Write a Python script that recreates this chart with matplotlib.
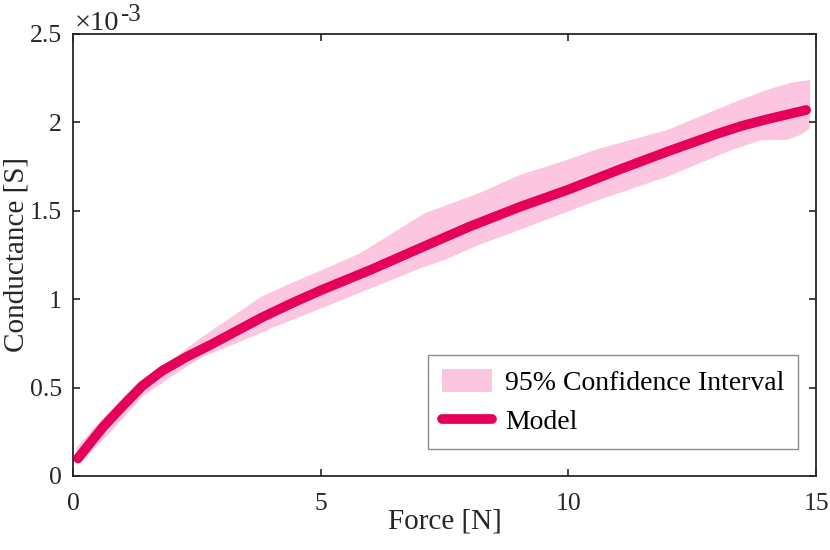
import numpy as np
import matplotlib
matplotlib.use("Agg")
from matplotlib import pyplot as plt

# model curve, conductance in units of 1e-3 S
model_force = [0.1, 0.6, 1.0, 1.4, 1.8, 2.3, 2.8, 3.5, 3.8, 4.4, 5.0, 6.0, 7.0,
               8.0, 9.0, 10.0, 11.0, 12.0, 13.0, 13.5, 14.0, 14.8]
model_cond = [0.10, 0.275, 0.395, 0.51, 0.595, 0.675, 0.745, 0.85, 0.895, 0.975, 1.05, 1.165, 1.288,
              1.41, 1.52, 1.62, 1.73, 1.835, 1.935, 1.98, 2.017, 2.07]

# 95% confidence band (upper and lower edges)
upper_force = [0.07, 0.6, 1.3, 2.0, 2.6, 3.1, 3.8, 4.4, 4.8, 5.8, 6.5, 7.1, 8.2,
               9.0, 10.0, 10.6, 12.0, 13.3, 14.0, 14.5, 14.88]
upper_cond = [0.16, 0.325, 0.525, 0.66, 0.785, 0.88, 1.014, 1.09, 1.137, 1.26, 1.382, 1.486, 1.60,
              1.70, 1.79, 1.85, 1.957, 2.108, 2.183, 2.225, 2.24]
lower_force = [0.07, 0.2, 0.8, 1.4, 2.0, 2.6, 3.3, 4.0, 5.1, 6.1, 7.1, 7.5, 8.2,
               9.0, 10.6, 12.0, 13.3, 13.9, 14.4, 14.7, 14.88]
lower_cond = [0.06, 0.09, 0.26, 0.449, 0.565, 0.672, 0.75, 0.835, 0.958, 1.071, 1.184, 1.222, 1.307,
              1.39, 1.56, 1.693, 1.844, 1.90, 1.90, 1.93, 1.967]

x_ticks = [0, 5, 10, 15]
y_ticks = [0, 0.5, 1, 1.5, 2, 2.5]

plt.rcParams['font.family'] = ['Liberation Serif', 'DejaVu Serif']
plt.rcParams['font.size'] = 18

dark = '#262626'
fig = plt.figure(figsize=(8.3, 5.5), dpi=100)
ax = fig.add_axes([73/830, 74/550, 743/830, 442/550])

band_x = np.concatenate([upper_force, lower_force[::-1]])
band_y = np.concatenate([upper_cond, lower_cond[::-1]])
ax.fill(band_x, band_y, color='#FDC6E0', linewidth=0, label='95% Confidence Interval')
ax.plot(model_force, model_cond, color='#E5005A', linewidth=7,
        solid_capstyle='round', solid_joinstyle='round', label='Model')

ax.set_xlim(0, 15)
ax.set_ylim(0, 2.5)
ax.set_xticks(x_ticks)
ax.set_yticks(y_ticks)
ax.set_xticklabels(['%g' % v for v in x_ticks])
ax.set_yticklabels(['%g' % v for v in y_ticks])
ax.tick_params(direction='in', length=5, width=1.2, colors=dark, top=True, right=True,
               labelsize=18.5)
ax.tick_params(axis='x', pad=12)
ax.tick_params(axis='y', pad=8)
for s in ax.spines.values():
    s.set_color(dark)
    s.set_linewidth(1.3)

ax.set_xlabel('Force [N]', color=dark, fontsize=21)
ax.xaxis.set_label_coords(0.5, -0.074)
ax.set_ylabel('Conductance [S]', color=dark, fontsize=21)
ax.yaxis.set_label_coords(-0.058, 0.5)

# MATLAB style exponent label
t1 = ax.text(0.003, 1.01, '\u00d710', transform=ax.transAxes, ha='left',
             va='baseline', fontsize=20.5, color=dark)
ax.annotate('-3', xy=(1.0, 1.0), xycoords=t1, xytext=(0.5, 5), textcoords='offset points',
            ha='left', va='top', fontsize=18, color=dark)

leg = ax.legend(loc='lower right', bbox_to_anchor=(0.9758, 0.0611), borderaxespad=0,
                fontsize=20, frameon=True, fancybox=False, handlelength=1.8,
                handleheight=0.9, handletextpad=0.45, labelspacing=0.42,
                borderpad=0.5)
leg.get_frame().set_edgecolor('#6e6e6e')
leg.get_frame().set_linewidth(1.0)

plt.savefig('out.png', dpi=100)
